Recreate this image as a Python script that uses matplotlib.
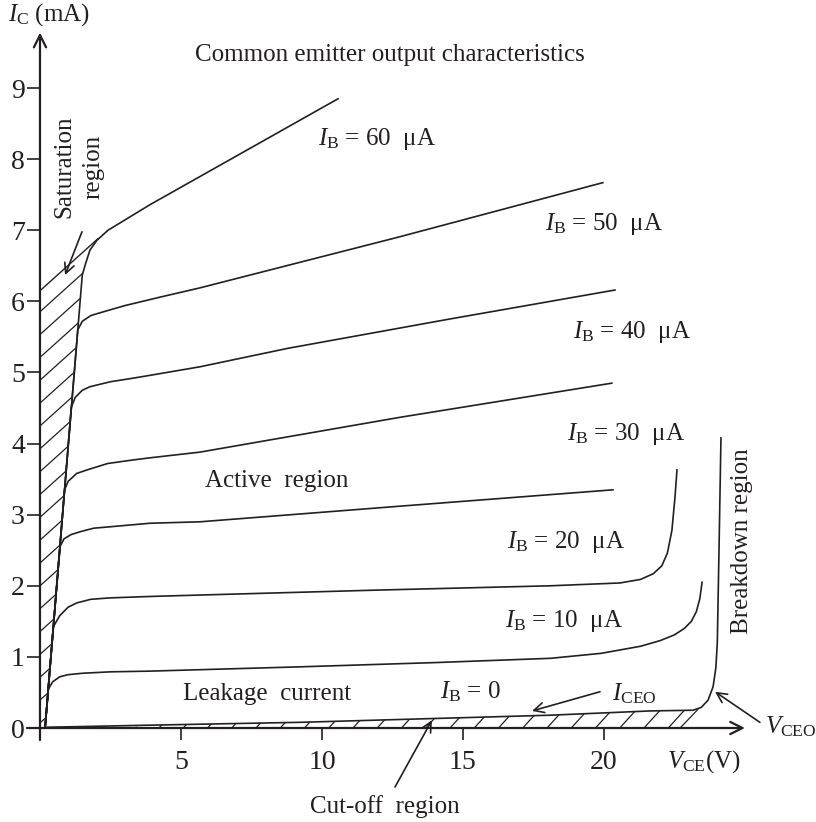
import matplotlib
matplotlib.use("Agg")
import matplotlib.pyplot as plt
import numpy as np
from matplotlib.patches import Polygon
from matplotlib.collections import LineCollection

plt.rcParams['font.family'] = ['Liberation Serif', 'DejaVu Serif']
plt.rcParams['mathtext.fontset'] = 'custom'
plt.rcParams['mathtext.rm'] = 'Liberation Serif'
plt.rcParams['mathtext.it'] = 'Liberation Serif:italic'

# ---------------- data (V_CE in volts, I_C in mA) ----------------
x_ticks = [5, 10, 15, 20]
y_ticks = [0, 1, 2, 3, 4, 5, 6, 7, 8, 9]

vce_10 = [0.18, 0.30, 0.45, 0.7, 1.0, 1.5, 2.5, 3.9, 9.2, 14.0, 18.1, 19.9, 21.3, 22.0, 22.5, 22.85, 23.1, 23.28, 23.4, 23.48]
ic_10 = [0.0, 0.55, 0.65, 0.72, 0.75, 0.77, 0.79, 0.80, 0.86, 0.92, 0.98, 1.05, 1.15, 1.23, 1.31, 1.40, 1.50, 1.64, 1.82, 2.05]

vce_20 = [0.18, 0.47, 0.7, 1.0, 1.31, 1.8, 2.48, 3.9, 5.67, 12.0, 18.09, 20.57, 21.3, 21.75, 22.05, 22.25, 22.41, 22.52, 22.59]
ic_20 = [0.0, 1.42, 1.58, 1.70, 1.76, 1.81, 1.83, 1.85, 1.87, 1.94, 2.00, 2.04, 2.09, 2.17, 2.28, 2.46, 2.78, 3.25, 3.63]

vce_30 = [0.18, 0.71, 0.85, 1.1, 1.42, 1.9, 2.48, 3.9, 5.67, 12.77, 20.32]
ic_30 = [0.0, 2.55, 2.66, 2.72, 2.76, 2.81, 2.83, 2.88, 2.90, 3.12, 3.35]

vce_40 = [0.18, 0.87, 1.0, 1.3, 1.67, 2.4, 3.30, 3.90, 5.67, 12.77, 20.28]
ic_40 = [0.0, 3.35, 3.47, 3.58, 3.63, 3.72, 3.77, 3.80, 3.88, 4.37, 4.85]

vce_50 = [0.18, 1.11, 1.25, 1.5, 1.77, 2.5, 3.30, 3.90, 5.67, 8.79, 14.5, 20.39]
ic_50 = [0.0, 4.51, 4.65, 4.75, 4.80, 4.87, 4.92, 4.96, 5.08, 5.34, 5.75, 6.16]

vce_60 = [0.18, 1.34, 1.5, 1.8, 2.13, 3.0, 4.26, 5.67, 12.77, 19.96]
ic_60 = [0.0, 5.60, 5.72, 5.80, 5.84, 5.94, 6.06, 6.19, 6.91, 7.67]

vce_top = [0.18, 1.50, 1.60, 1.77, 2.02, 2.41, 3.90, 10.57]
ic_top = [0.0, 6.37, 6.51, 6.72, 6.86, 7.00, 7.36, 8.85]

vce_0 = [0.18, 3.90, 9.22, 18.09, 21.63, 23.16, 23.45, 23.69, 23.87, 23.97, 24.02, 24.08, 24.15]
ic_0 = [0.01, 0.04, 0.08, 0.18, 0.24, 0.25, 0.29, 0.39, 0.58, 0.85, 1.20, 2.50, 4.08]

sat_vce = [0.0, 0.0, 2.05, 1.77, 1.60, 1.50, 0.18]
sat_ic = [0.0, 6.15, 6.88, 6.72, 6.51, 6.37, 0.0]

cut_vce = [3.0, 3.9, 9.22, 18.09, 21.63, 23.16, 23.33, 22.70]
cut_ic = [0.0, 0.04, 0.08, 0.18, 0.24, 0.25, 0.26, 0.0]

curves = [(vce_10, ic_10), (vce_20, ic_20), (vce_30, ic_30), (vce_40, ic_40),
          (vce_50, ic_50), (vce_60, ic_60), (vce_top, ic_top), (vce_0, ic_0)]

# ---------------- figure ----------------
fig = plt.figure(figsize=(8.16, 8.22), dpi=100)
ax = fig.add_axes([0, 0, 1, 1])
ax.set_xlim(-1.418, 27.52)
ax.set_ylim(-1.322, 10.239)

lc = '#231f20'
for vx, iy in curves:
    ax.plot(vx, iy, color=lc, lw=1.2, solid_joinstyle='round')


def hatch_region(xs, ys, slope, spacing, x_range):
    poly = Polygon(np.column_stack([xs, ys]), closed=True, facecolor='none', edgecolor='none')
    ax.add_patch(poly)
    segs = []
    for c in np.arange(x_range[0], x_range[1], spacing):
        x0, x1 = c - 30, c + 30
        segs.append([(x0, slope * (x0 - c)), (x1, slope * (x1 - c))])
    coll = LineCollection(segs, colors=lc, linewidths=0.9)
    ax.add_collection(coll)
    coll.set_clip_path(poly)


# saturation region hatching
hatch_region(sat_vce, sat_ic, 0.357, 0.9, (-20, 3))
ax.plot(sat_vce[1:3], sat_ic[1:3], color=lc, lw=1.0)
# cut-off region hatching
hatch_region(cut_vce, cut_ic, 0.436, 0.86, (2.5, 24))
ax.plot(cut_vce[-2:], cut_ic[-2:], color=lc, lw=0.9)

# axes with arrows
for s in ax.spines.values():
    s.set_visible(False)
ax.spines['left'].set_position(('data', 0))
ax.spines['bottom'].set_position(('data', 0))
ax.annotate('', xy=(25.0, 0), xytext=(-0.46, 0),
            arrowprops=dict(arrowstyle='->', lw=1.6, color=lc, mutation_scale=22, shrinkA=0, shrinkB=0))
ax.annotate('', xy=(0, 9.78), xytext=(0, -0.17),
            arrowprops=dict(arrowstyle='->', lw=1.6, color=lc, mutation_scale=22, shrinkA=0, shrinkB=0))

ax.set_xticks(x_ticks)
ax.set_xticklabels([str(v) for v in x_ticks])
ax.set_yticks(y_ticks)
ax.set_yticklabels([str(v) for v in y_ticks])
ax.tick_params(axis='x', direction='out', length=8.5, width=1.2, pad=7, labelsize=20, colors=lc)
ax.tick_params(axis='y', direction='out', length=9.4, width=1.2, pad=1.5, labelsize=20, colors=lc)

fs = 18
ax.text(5.5, 9.47, 'Common emitter output characteristics', fontsize=fs, ha='left', va='center', color=lc)
ax.text(-1.13, 10.03, r'$I_\mathrm{C}$ (mA)', fontsize=fs, ha='left', va='center', color=lc)
ax.text(22.23, -0.55, r'$V_\mathrm{CE}$(V)', fontsize=fs, ha='left', va='baseline', color=lc)

labels = [(9.86, 8.20, '60'), (17.91, 7.00, '50'), (18.90, 5.49, '40'),
          (18.69, 4.05, '30'), (16.56, 2.53, '20'), (16.49, 1.42, '10')]
for x, y, v in labels:
    ax.text(x, y, r'$I_\mathrm{B}$ = ' + v + '  μA', fontsize=fs, ha='left', va='baseline', color=lc)
ax.text(14.18, 0.42, r'$I_\mathrm{B}$ = 0', fontsize=fs, ha='left', va='baseline', color=lc)
ax.text(5.07, 0.39, 'Leakage  current', fontsize=fs, ha='left', va='baseline', color=lc)
ax.text(5.85, 3.39, 'Active  region', fontsize=fs, ha='left', va='baseline', color=lc)
ax.text(20.28, 0.39, r'$I_\mathrm{CEO}$', fontsize=fs, ha='left', va='baseline', color=lc)
ax.text(25.71, -0.07, r'$V_\mathrm{CEO}$', fontsize=fs, ha='left', va='baseline', color=lc)
ax.text(14.89, -1.20, 'Cut-off  region', fontsize=fs, ha='right', va='baseline', color=lc)
ax.text(24.89, 2.63, 'Breakdown region', fontsize=fs, ha='center', va='center', rotation=90, color=lc)
ax.text(1.38, 7.89, 'Saturation\nregion', fontsize=fs, ha='center', va='center', rotation=90,
        multialignment='center', linespacing=1.45, color=lc)

arrow_kw = dict(arrowstyle='->', lw=1.2, color=lc, mutation_scale=18, shrinkA=0, shrinkB=0)
ax.annotate('', xy=(0.89, 6.37), xytext=(1.49, 6.98), arrowprops=arrow_kw)
ax.annotate('', xy=(17.45, 0.24), xytext=(19.86, 0.51), arrowprops=arrow_kw)
ax.annotate('', xy=(23.94, 0.51), xytext=(25.53, 0.08), arrowprops=arrow_kw)
ax.annotate('', xy=(13.90, 0.11), xytext=(12.59, -0.83), arrowprops=arrow_kw)

fig.savefig('out.png', dpi=100)
